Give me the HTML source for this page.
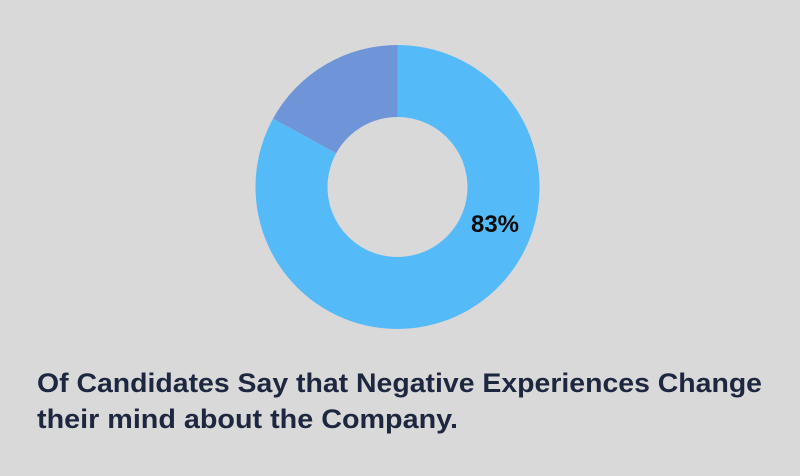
<!DOCTYPE html>
<html><head><meta charset="utf-8"><style>
html,body{margin:0;padding:0;background:#d9d9d9;}
svg{display:block;}
</style></head><body>
<svg width="800" height="476" viewBox="0 0 800 476">
<rect width="800" height="476" fill="#d9d9d9"/>
<g id="slices"></g>
<text x="495" y="232" text-anchor="middle" font-family="Liberation Sans, sans-serif" font-weight="bold" font-size="24" fill="#0a0a0a" id="pct"></text>
<text x="37" y="392" font-family="Liberation Sans, sans-serif" font-weight="bold" font-size="27" fill="#1e2740" textLength="725" lengthAdjust="spacingAndGlyphs">Of Candidates Say that Negative Experiences Change</text>
<text x="37" y="428" font-family="Liberation Sans, sans-serif" font-weight="bold" font-size="27" fill="#1e2740" textLength="421" lengthAdjust="spacingAndGlyphs">their mind about the Company.</text>
</svg>
<script>
const categories = ["Change mind", "Other"];
const values = [83, 17];
const colors = ["#55bbf8", "#6f95d8"];
const cx = 397.5, cy = 187, R = 142, r = 70;
const g = document.getElementById('slices');
const total = values.reduce((a,b)=>a+b,0);
let start = 0;
function pt(a, rad){ return [cx + rad*Math.sin(a), cy - rad*Math.cos(a)]; }
values.forEach((v,i)=>{
  const a0 = start/total*2*Math.PI, a1 = (start+v)/total*2*Math.PI;
  const large = (a1-a0) > Math.PI ? 1 : 0;
  const [x0,y0]=pt(a0,R),[x1,y1]=pt(a1,R),[x2,y2]=pt(a1,r),[x3,y3]=pt(a0,r);
  const p = document.createElementNS('http://www.w3.org/2000/svg','path');
  p.setAttribute('d',`M${x0},${y0}A${R},${R} 0 ${large} 1 ${x1},${y1}L${x2},${y2}A${r},${r} 0 ${large} 0 ${x3},${y3}Z`);
  p.setAttribute('fill',colors[i]);
  
  
  g.appendChild(p);
  start += v;
});
document.getElementById('pct').textContent = values[0] + '%';
</script>
</body></html>
